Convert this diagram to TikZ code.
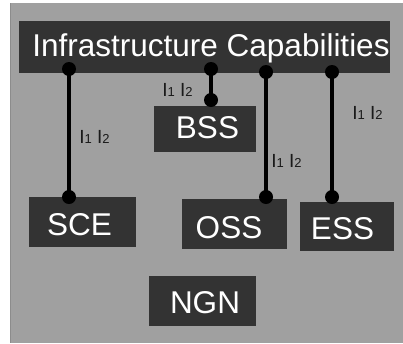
\documentclass[tikz,border=0pt]{standalone}
\usepackage{fontspec}
\setmainfont{Liberation Sans}
\definecolor{panel}{HTML}{A0A0A0}
\definecolor{paneledge}{HTML}{8C8C8C}
\definecolor{boxfill}{HTML}{333333}
\definecolor{labelink}{HTML}{1A1A1A}
\tikzset{
  darkbox/.style={fill=boxfill, draw=none, inner sep=0pt, anchor=center},
  boxtext/.style={text=white, inner sep=0pt, anchor=base, font=\fontsize{31.5pt}{32pt}\selectfont},
  pin/.style={circle, fill=black, draw=none, inner sep=0pt, minimum size=14pt},
  link/.style={line width=4pt, black},
  iface/.style={text=labelink, inner sep=0pt, anchor=base west, font=\fontsize{19pt}{20pt}\selectfont}
}
\newcommand{\ifacepair}{I{\fontsize{13pt}{14pt}\selectfont 1} I{\fontsize{13pt}{14pt}\selectfont 2}}
\begin{document}
\begin{tikzpicture}[x=1pt, y=-1pt]
  \useasboundingbox (0,0) rectangle (403,343);
  \fill[white] (0,0) rectangle (403,343);
  % grey panel
  \fill[panel] (10,3) rectangle (403,343);
  \draw[paneledge, line width=0.8pt] (10.4,3) -- (10.4,343);

  % boxes
  \node[darkbox, minimum width=371pt, minimum height=52pt] (infra) at (204.5,47) {};
  \node[darkbox, minimum width=102pt, minimum height=46pt] (bss) at (205,129) {};
  \node[darkbox, minimum width=107pt, minimum height=50pt] (sce) at (82.5,222) {};
  \node[darkbox, minimum width=105pt, minimum height=50pt] (oss) at (234.5,224) {};
  \node[darkbox, minimum width=94pt, minimum height=49pt] (ess) at (347,226.5) {};
  \node[darkbox, minimum width=107pt, minimum height=50pt] (ngn) at (202.5,301) {};

  % box captions
  \node[boxtext] (infratxt) at (211,56.5) {Infrastructure Capabilities};
  \node[boxtext] (bsstxt) at (207.5,138) {BSS};
  \node[boxtext] (scetxt) at (79.5,235) {SCE};
  \node[boxtext] (osstxt) at (229,238) {OSS};
  \node[boxtext] (esstxt) at (342.5,239) {ESS};
  \node[boxtext] (ngntxt) at (205,313) {NGN};

  % connector end points
  \node[pin] (p1a) at (69,69) {};
  \node[pin] (p1b) at (69,197) {};
  \node[pin] (p2a) at (211,69) {};
  \node[pin] (p2b) at (211,100) {};
  \node[pin] (p3a) at (266,72) {};
  \node[pin] (p3b) at (266,197) {};
  \node[pin] (p4a) at (332,72) {};
  \node[pin] (p4b) at (332,197) {};

  % connectors
  \draw[link] (p1a.center) -- (p1b.center);
  \draw[link] (p2a.center) -- (p2b.center);
  \draw[link] (p3a.center) -- (p3b.center);
  \draw[link] (p4a.center) -- (p4b.center);

  % interface labels
  \node[iface] (l1) at (79.2,143) {\ifacepair};
  \node[iface] (l2) at (162.2,96.3) {\ifacepair};
  \node[iface] (l3) at (271.2,167) {\ifacepair};
  \node[iface] (l4) at (352.2,119.3) {\ifacepair};
\end{tikzpicture}
\end{document}
